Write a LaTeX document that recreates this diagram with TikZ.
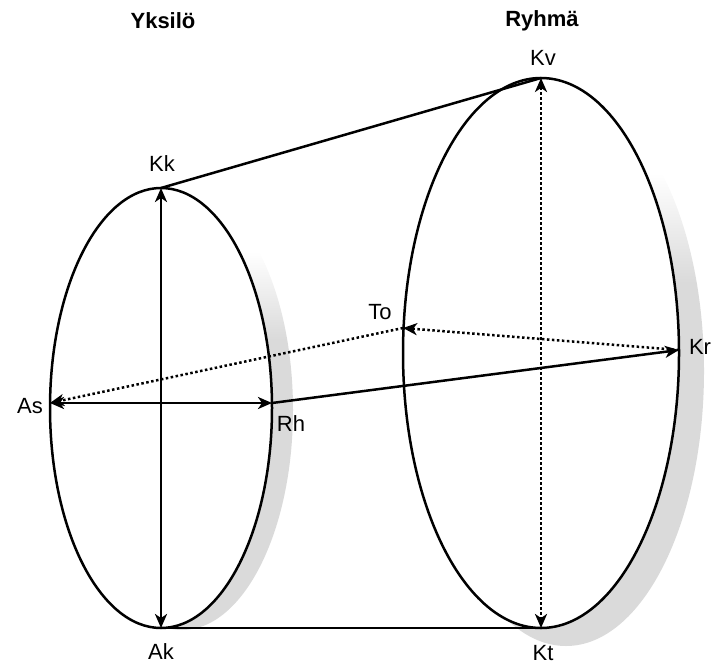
\documentclass[tikz,border=0pt]{standalone}
\usepackage{fontspec}
\setmainfont{Liberation Sans}
\usetikzlibrary{arrows.meta}
\definecolor{shgray}{RGB}{218,218,218}
\pgfdeclareverticalshading{shfade}{100bp}{color(0bp)=(shgray); color(58bp)=(shgray); color(68bp)=(white); color(100bp)=(white)}
\begin{document}
\begin{tikzpicture}[x=1pt,y=-1pt,
  lbl/.style={font=\fontsize{22}{26}\selectfont, inner sep=0pt},
  ttl/.style={font=\fontsize{22}{26}\selectfont\bfseries, inner sep=0pt},
  rim/.style={draw=black, line width=2.5pt, fill=white},
  conn/.style={line width=2.5pt},
  dotconn/.style={line width=2.5pt, dash pattern=on 2.5pt off 2.5pt},
  >={Stealth[length=14pt,width=12pt,inset=4pt]}]
\useasboundingbox (0,0) rectangle (719,666);
% shadows
\shade[shading=shfade] (182,410) ellipse [x radius=111, y radius=220];
\shade[shading=shfade] (566,371) ellipse [x radius=138, y radius=275];
% ellipses
\draw[rim] (161,408) ellipse [x radius=111, y radius=220];
\draw[rim] (541,353) ellipse [x radius=138, y radius=275];
% points
\coordinate (Kk) at (161,188);
\coordinate (Ak) at (161,628);
\coordinate (As) at (50,403);
\coordinate (Rh) at (272,403);
\coordinate (Kv) at (541,78);
\coordinate (Kt) at (541,628);
\coordinate (Kr) at (679,350);
\coordinate (To) at (403,328);
% connectors
\draw[conn] (Kk) -- (Kv);
\draw[conn] (Ak) -- (Kt);
\draw[conn,<->] (Kk) -- (Ak);
\draw[conn,<->] (As) -- (Rh);
\draw[conn,->] (Rh) -- (Kr);
\draw[dotconn,<->] (Kv) -- (Kt);
\draw[dotconn,->] (Kr) -- (To);
\draw[dotconn,->] (To) -- (As);
% labels
\node[ttl] (tY) at (163,21) {Yksilö};
\node[ttl] (tR) at (542,21) {Ryhmä};
\node[lbl] (lKk) at (162,164) {Kk};
\node[lbl] (lKv) at (543,58) {Kv};
\node[lbl] (lAk) at (161,652) {Ak};
\node[lbl] (lKt) at (543,653) {Kt};
\node[lbl] (lAs) at (30,406) {As};
\node[lbl] (lRh) at (291,424) {Rh};
\node[lbl] (lTo) at (380,312) {To};
\node[lbl] (lKr) at (700,347) {Kr};
\end{tikzpicture}
\end{document}
